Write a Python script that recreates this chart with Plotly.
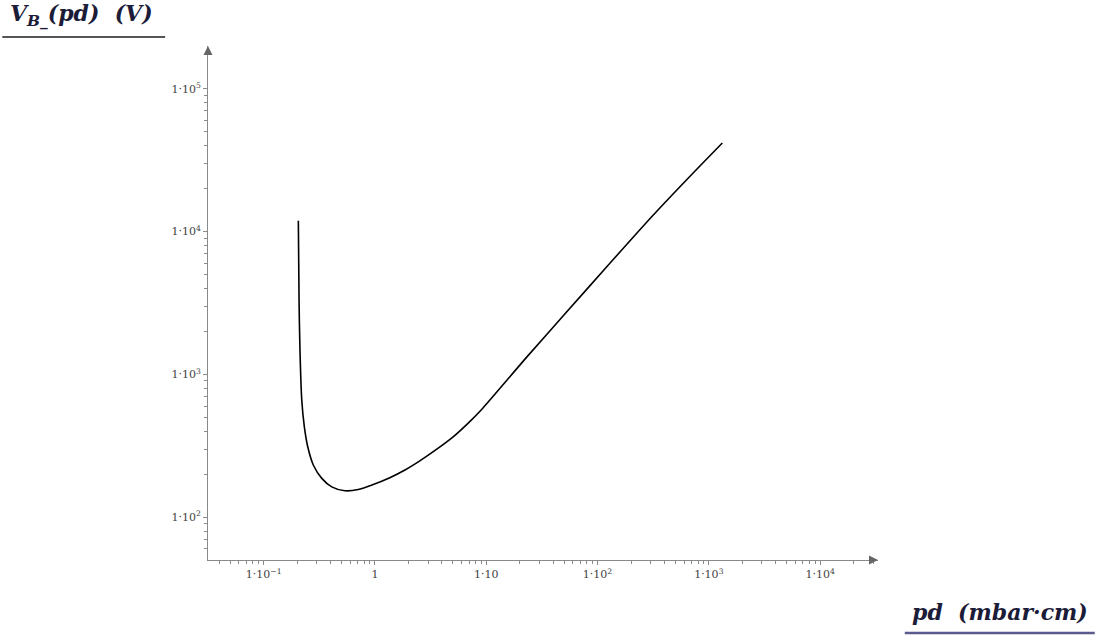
import plotly.graph_objects as go

# pd (mbar*cm) and breakdown voltage V_B (V)
pd_vals = [0.205, 0.208, 0.212, 0.220, 0.232, 0.249, 0.280, 0.333, 0.409, 0.538,
           0.708, 0.940, 1.36, 1.86, 2.53, 3.57, 5.04, 7.11, 9.31, 23.1,
           52.7, 120.5, 311, 629, 1322]
vb_vals = [11920, 3316, 1480, 661, 430, 311, 231, 187, 163, 153,
           156, 168, 189, 214, 248, 298, 365, 467, 580, 1321,
           2733, 5649, 12860, 23000, 41780]

x_tickvals = [0.1, 1, 10, 100, 1000, 10000]
x_ticktext = ["1·10<sup>−1</sup>", "1", "1·10", "1·10<sup>2</sup>", "1·10<sup>3</sup>", "1·10<sup>4</sup>"]
y_tickvals = [100, 1000, 10000, 100000]
y_ticktext = ["1·10<sup>2</sup>", "1·10<sup>3</sup>", "1·10<sup>4</sup>", "1·10<sup>5</sup>"]

# minor ticks 2..9 in each decade
x_minor = [m * 10.0 ** k for k in range(-2, 5) for m in range(2, 10)]
y_minor = [m * 10.0 ** k for k in range(1, 6) for m in range(2, 10)]

serif = "DejaVu Serif, Liberation Serif, serif"
axis_col = "#8a8a8a"

fig = go.Figure()
fig.add_trace(go.Scatter(x=pd_vals, y=vb_vals, mode="lines",
                         line=dict(color="black", width=1.6, shape="spline", smoothing=0.8),
                         showlegend=False, hoverinfo="x+y"))

axis_common = dict(type="log", showgrid=False, zeroline=False, showline=True,
                   linecolor=axis_col, linewidth=1, ticks="outside", ticklen=4,
                   tickcolor=axis_col, tickfont=dict(family=serif, size=11, color="#444444"))

fig.update_xaxes(range=[-1.5, 4.52], tickvals=x_tickvals, ticktext=x_ticktext,
                 minor=dict(tickvals=x_minor, ticks="outside", ticklen=3, tickcolor=axis_col, showgrid=False),
                 **axis_common)
fig.update_yaxes(range=[1.7, 5.3], tickvals=y_tickvals, ticktext=y_ticktext,
                 minor=dict(tickvals=y_minor, ticks="outside", ticklen=3, tickcolor=axis_col, showgrid=False),
                 **axis_common)

# axis end arrows
fig.add_annotation(xref="paper", yref="paper", x=1.0, y=0, ax=-6, ay=0, text="",
                   showarrow=True, arrowhead=2, arrowsize=1.2, arrowwidth=1.5, arrowcolor="#666666")
fig.add_annotation(xref="paper", yref="paper", x=0, y=1.0, ax=0, ay=6, text="",
                   showarrow=True, arrowhead=2, arrowsize=1.2, arrowwidth=1.5, arrowcolor="#666666")

# axis titles (Mathcad style, underlined)
fig.add_annotation(xref="paper", yref="paper", x=-0.299, y=1.028, xanchor="left", yanchor="bottom",
                   text="<b><i>V<sub>B_</sub>(pd)  (V)</i></b>", showarrow=False,
                   font=dict(family=serif, size=22, color="#1c1c38"))
fig.add_shape(type="line", xref="paper", yref="paper", x0=-0.307, x1=-0.064, y0=1.0175, y1=1.0175,
              line=dict(color="#555555", width=2))
fig.add_annotation(xref="paper", yref="paper", x=1.316, y=-0.072, xanchor="right", yanchor="top",
                   text="<b><i>pd  (mbar·cm)</i></b>", showarrow=False,
                   font=dict(family=serif, size=22, color="#1c1c38"))
fig.add_shape(type="line", xref="paper", yref="paper", x0=1.04, x1=1.3235, y0=-0.142, y1=-0.142,
              line=dict(color="#5a5a8c", width=2.5))

fig.update_layout(width=1100, height=638, plot_bgcolor="white", paper_bgcolor="white",
                  margin=dict(l=208, r=222, t=46, b=78))

fig.write_html("out.html", config={"displayModeBar": False},
               post_script="document.body.style.margin='0';")
